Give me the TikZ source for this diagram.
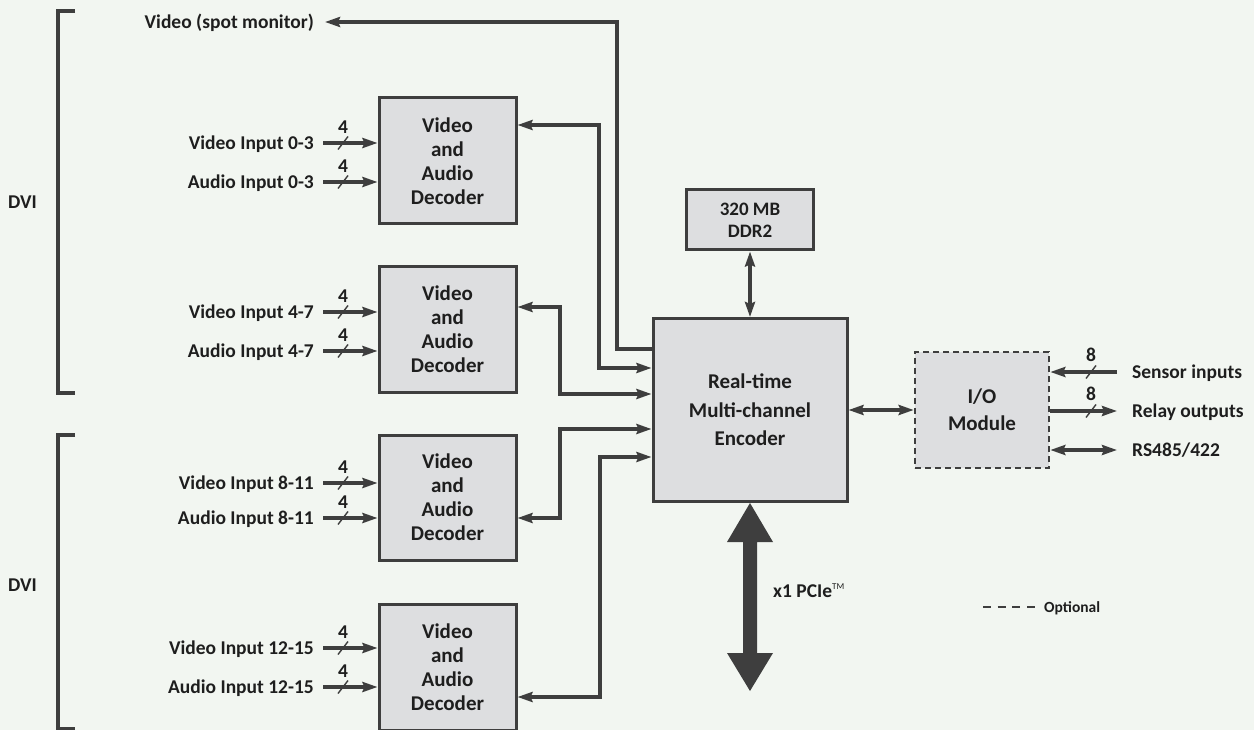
\documentclass[tikz,border=0pt]{standalone}
\usepackage{fontspec}
\setmainfont{Carlito}
\usetikzlibrary{arrows.meta}
\definecolor{bg}{RGB}{242,246,241}
\definecolor{boxfill}{RGB}{221,222,224}
\definecolor{linec}{RGB}{62,62,62}
\definecolor{txt}{RGB}{30,30,30}
\begin{document}
\begin{tikzpicture}[x=1pt,y=-1pt,
  box/.style={draw=linec, line width=3pt, fill=boxfill, inner sep=0pt, align=center, text=txt,
    font=\bfseries\fontsize{21}{24}\selectfont},
  conn/.style={draw=linec, line width=3.3pt},
  tip/.tip={Stealth[length=15pt,width=10pt,inset=2pt]},
  arr/.style={conn, -tip},
  biarr/.style={conn, tip-tip},
  lab/.style={text=txt, font=\bfseries\fontsize{19.5}{22}\selectfont, inner sep=0pt, text height=12.5pt, text depth=0pt},
  slash/.style={draw=linec, line width=1.4pt},
]
\fill[bg] (0,0) rectangle (1254,730);
\useasboundingbox (0,0) rectangle (1254,730);

% boxes
\node[box, minimum width=137pt, minimum height=126pt] (dec1) at (447.5,161) {Video\\and\\Audio\\Decoder};
\node[box, minimum width=137pt, minimum height=125pt] (dec2) at (447.5,329.5) {Video\\and\\Audio\\Decoder};
\node[box, minimum width=137pt, minimum height=125pt] (dec3) at (447.5,497.5) {Video\\and\\Audio\\Decoder};
\node[box, minimum width=137pt, minimum height=126pt] (dec4) at (447.5,667) {Video\\and\\Audio\\Decoder};
\node[box, minimum width=194pt, minimum height=183pt, font=\bfseries\fontsize{21}{28.5}\selectfont] (enc) at (750,410) {Real-time\\Multi-channel\\Encoder};
\node[box, minimum width=127pt, minimum height=60pt, font=\bfseries\fontsize{19}{22}\selectfont] (ddr) at (750,220) {320 MB\\DDR2};
\node[box, dash pattern=on 6pt off 4pt, line width=2.6pt, minimum width=134pt, minimum height=116pt, font=\bfseries\fontsize{21}{27}\selectfont] (io) at (982,410) {I/O\\Module};

% DVI brackets
\draw[conn] (75,11) -- (58,11) -- (58,393) -- (75,393);
\draw[conn] (75,435) -- (58,435) -- (58,729) -- (75,729);
\node[lab] (dvi1) at (22.5,202) {DVI};
\node[lab] (dvi2) at (22.5,585) {DVI};

% spot monitor
\node[lab, anchor=east] (spot) at (314,22) {Video (spot monitor)};
\coordinate (s1) at (617,349);
\coordinate (s2) at (617,22);
\draw[arr] (s1 -| enc.west) -- (s1) -- (s2) -- ([xshift=11pt]spot.east);

% decoder <-> encoder
\coordinate (d1a) at (599,125); \coordinate (d1b) at (599,368);
\coordinate (d2a) at (560,307); \coordinate (d2b) at (560,394);
\coordinate (d3a) at (560,518); \coordinate (d3b) at (560,429);
\coordinate (d4a) at (600,697); \coordinate (d4b) at (600,457);
\draw[biarr] (d1a -| dec1.east) -- (d1a) -- (d1b) -- (d1b -| enc.west);
\draw[biarr] (d2a -| dec2.east) -- (d2a) -- (d2b) -- (d2b -| enc.west);
\draw[biarr] (d3a -| dec3.east) -- (d3a) -- (d3b) -- (d3b -| enc.west);
\draw[biarr] (d4a -| dec4.east) -- (d4a) -- (d4b) -- (d4b -| enc.west);

% inputs
\foreach \nm/\dn/\yy/\txt in {v1/dec1/143/Video Input 0-3, a1/dec1/182/Audio Input 0-3,
  v2/dec2/312/Video Input 4-7, a2/dec2/351/Audio Input 4-7,
  v3/dec3/483/Video Input 8-11, a3/dec3/518/Audio Input 8-11,
  v4/dec4/648/Video Input 12-15, a4/dec4/687/Audio Input 12-15}{
  \node[lab, anchor=east] (l\nm) at (314,\yy) {\txt};
  \coordinate (c\nm) at (343,\yy);
  \draw[arr] ([xshift=9pt]l\nm.east) -- (l\nm.east -| \dn.west);
  \draw[slash] ([shift={(-5,6.5)}]c\nm) -- ([shift={(5,-6.5)}]c\nm);
  \node[lab] (n\nm) at ([yshift=16pt]c\nm) {4};
}

% memory and IO links
\draw[biarr] (ddr.south) -- (enc.north);
\draw[biarr] (enc.east) -- (io.west);

% IO side
\coordinate (sen) at (1117,372);
\coordinate (rel) at (1117,411);
\coordinate (rs) at (1117,450);
\draw[arr] (sen) -- (sen -| io.east);
\draw[arr] (rel -| io.east) -- (rel);
\draw[biarr] (rs -| io.east) -- (rs);
\draw[slash] (1086,378.5) -- (1096,365.5);
\draw[slash] (1086,417.5) -- (1096,404.5);
\node[lab] (n8a) at (1091,355) {8};
\node[lab] (n8b) at (1091,394) {8};
\node[lab, anchor=west] (lsen) at (1132,372) {Sensor inputs};
\node[lab, anchor=west] (lrel) at (1132,411) {Relay outputs};
\node[lab, anchor=west] (lrs) at (1132,450) {RS485/422};

% PCIe
\fill[linec] (enc.south) -- ++(23,39) -- ++(-16,0) -- ++(0,111) -- ++(16,0) -- ++(-23,38)
  -- ++(-23,-38) -- ++(16,0) -- ++(0,-111) -- ++(-16,0) -- cycle;
\node[lab, anchor=west] (pcie) at (773,591) {x1 PCIe\raisebox{8pt}{\mdseries\fontsize{9}{9}\selectfont TM}};

% legend
\node[lab, anchor=west, font=\bfseries\fontsize{15.5}{18}\selectfont, text height=10pt] (opt) at (1044,607) {Optional};
\coordinate (o1) at (983,607);
\draw[draw=linec, line width=2pt, dash pattern=on 8pt off 6.7pt] (o1) -- ([xshift=-9pt]opt.west);
\end{tikzpicture}
\end{document}
